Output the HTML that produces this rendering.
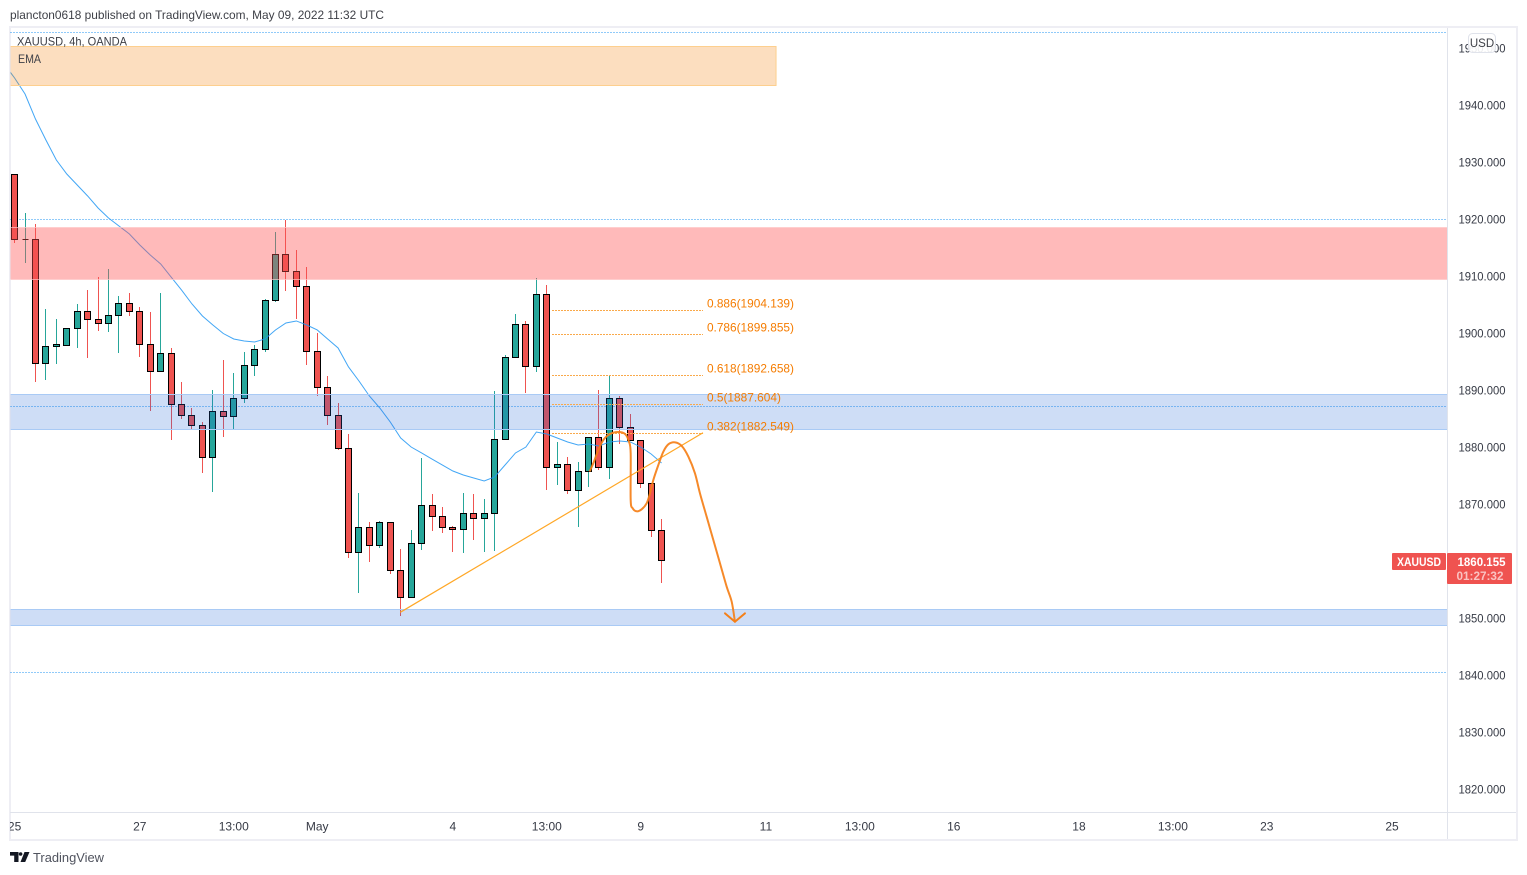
<!DOCTYPE html>
<html lang="en">
<head>
<meta charset="utf-8">
<title>XAUUSD 4h chart</title>
<style>
html,body{margin:0;padding:0;background:#fff;width:1527px;height:875px;overflow:hidden}
svg{display:block;font-family:"Liberation Sans",Arial,sans-serif}
</style>
</head>
<body>
<svg id="chart" xmlns="http://www.w3.org/2000/svg" width="1527" height="875" viewBox="0 0 1527 875">
  <defs>
    <clipPath id="pane-clip"><rect x="10.5" y="28" width="1436.5" height="784"/></clipPath>
    <clipPath id="time-clip"><rect x="10" y="813" width="1437" height="26"/></clipPath>
  </defs>
  <rect x="0" y="0" width="1527" height="875" fill="#ffffff"/>
  <text x="10" y="19" font-size="12" fill="#3d3f46" textLength="374" lengthAdjust="spacingAndGlyphs">plancton0618 published on TradingView.com, May 09, 2022 11:32 UTC</text>
  <rect x="10" y="27" width="1507" height="813" fill="none" stroke="#eeeef4" stroke-width="2"/>
  <g id="pane" clip-path="url(#pane-clip)"></g>
  <line x1="1447.5" y1="28" x2="1447.5" y2="839" stroke="#e0e3eb"/>
  <line x1="10" y1="812.5" x2="1516" y2="812.5" stroke="#e0e3eb"/>
  <g id="price-axis"></g>
  <g id="time-axis" clip-path="url(#time-clip)"></g>
  <text x="17" y="45.5" font-size="12" fill="#3d3f46" textLength="110" lengthAdjust="spacingAndGlyphs">XAUUSD, 4h, OANDA</text>
  <text x="18" y="63" font-size="12" fill="#3d3f46" textLength="23" lengthAdjust="spacingAndGlyphs">EMA</text>
  <g>
    <rect x="1468.5" y="33.5" width="27" height="19" rx="4" fill="#ffffff" fill-opacity="0.9" stroke="#e0e3eb"/>
    <text x="1482" y="47" font-size="11.5" fill="#3d3f46" text-anchor="middle">USD</text>
  </g>
  <g>
    <rect x="1392" y="553" width="54" height="17" rx="1" fill="#ef5350"/>
    <text x="1419" y="566" font-size="12" font-weight="bold" fill="#ffffff" text-anchor="middle" textLength="44" lengthAdjust="spacingAndGlyphs">XAUUSD</text>
    <rect x="1447" y="553" width="65" height="31" rx="1" fill="#ef5350"/>
    <text x="1505.5" y="566" font-size="12" font-weight="bold" fill="#ffffff" text-anchor="end" textLength="48" lengthAdjust="spacingAndGlyphs">1860.155</text>
    <text x="1503.5" y="580" font-size="12" font-weight="bold" fill="#ffffff" fill-opacity="0.65" text-anchor="end" textLength="47" lengthAdjust="spacingAndGlyphs">01:27:32</text>
  </g>
  <g>
    <path d="M10 852h8.5v10h-4.3v-6.4H10z" fill="#131722"/>
    <circle cx="20.6" cy="854" r="1.8" fill="#131722"/>
    <path d="M24.5 852H29.5L25.2 862H20.5z" fill="#131722"/>
    <text x="33" y="862" font-size="13" fill="#50535e" textLength="71" lengthAdjust="spacingAndGlyphs">TradingView</text>
  </g>
</svg>
<script>
const opens = [1927.84,1916.43,1916.43,1894.68,1897.66,1897.84,1900.82,1903.80,1902.40,1901.70,1903.10,1905.20,1903.80,1898.01,1893.27,1896.43,1887.48,1885.55,1883.80,1878.19,1886.26,1885.38,1888.54,1894.33,1897.13,1905.73,1913.80,1910.82,1908.19,1896.78,1890.47,1885.55,1879.76,1861.52,1865.90,1862.75,1866.78,1858.36,1853.62,1863.10,1869.76,1867.83,1865.90,1865.55,1868.36,1867.48,1868.36,1881.34,1895.73,1901.52,1894.15,1906.78,1876.43,1876.96,1872.40,1875.73,1881.69,1876.43,1888.54,1883.45,1881.17,1873.62,1865.38];
const highs = [1927.84,1920.99,1919.06,1904.15,1902.40,1900.82,1905.03,1907.37,1909.65,1911.17,1906.49,1906.96,1904.56,1903.51,1906.96,1897.31,1891.34,1886.78,1884.33,1890.00,1895.26,1892.92,1896.61,1897.84,1905.91,1917.66,1919.77,1914.50,1911.52,1899.94,1892.40,1887.66,1882.28,1871.87,1866.78,1866.96,1866.78,1862.04,1865.38,1878.01,1871.69,1869.41,1866.08,1871.87,1871.69,1870.82,1889.76,1896.08,1903.27,1902.04,1909.59,1908.36,1880.82,1878.18,1877.31,1881.69,1889.94,1892.40,1888.89,1885.73,1881.17,1873.62,1867.31];
const lows = [1915.85,1912.34,1891.46,1891.81,1894.62,1897.84,1897.43,1895.67,1900.41,1900.23,1896.55,1903.04,1895.85,1886.37,1893.27,1881.34,1884.97,1883.22,1875.50,1872.16,1881.81,1883.22,1887.84,1892.51,1896.72,1905.50,1907.43,1902.51,1894.44,1889.00,1883.92,1879.53,1860.58,1854.44,1859.88,1862.34,1857.78,1850.41,1853.62,1862.04,1865.32,1864.97,1861.63,1861.46,1863.74,1861.63,1861.81,1881.34,1895.73,1889.53,1893.21,1872.51,1873.39,1871.81,1866.02,1873.04,1876.02,1874.44,1880.58,1881.17,1872.86,1864.27,1856.20];
const closes = [1916.43,1916.43,1894.68,1897.66,1897.90,1900.82,1903.80,1902.40,1901.70,1903.10,1905.20,1903.80,1898.01,1893.27,1896.43,1887.48,1885.55,1883.80,1878.19,1886.26,1885.38,1888.54,1894.33,1897.13,1905.73,1913.80,1910.82,1908.19,1896.78,1890.47,1885.55,1879.77,1861.52,1865.90,1862.75,1866.78,1858.36,1853.62,1863.10,1869.76,1867.83,1865.90,1865.55,1868.36,1867.48,1868.36,1881.34,1895.73,1901.52,1894.15,1906.78,1876.43,1876.96,1872.40,1875.73,1881.69,1876.43,1888.54,1883.45,1881.17,1873.62,1865.38,1860.155];
const emaFirstBar = -1;
const emaValues = [1947.19,1944.74,1941.93,1937.54,1933.86,1930.35,1927.89,1925.96,1924.04,1921.93,1920.18,1918.77,1917.37,1915.44,1913.68,1912.11,1909.82,1907.54,1905.09,1902.98,1901.40,1899.91,1898.95,1898.60,1898.42,1898.95,1900.53,1901.75,1902.11,1901.40,1900.53,1898.95,1897.37,1894.04,1891.58,1888.95,1886.84,1884.39,1881.58,1880.00,1878.95,1877.89,1876.84,1875.79,1875.09,1874.56,1874.04,1874.74,1876.84,1878.95,1880.00,1882.63,1882.28,1881.58,1880.88,1880.35,1880.53,1880.18,1880.88,1881.05,1880.88,1880.00,1878.77,1877.19];
const priceTicks = [1950,1940,1930,1920,1910,1900,1890,1880,1870,1850,1840,1830,1820];
const timeLabels = ['25','27','13:00','May','4','13:00','9','11','13:00','16','18','13:00','23','25'];
const timeTickBars = [0,12,21,29,42,51,60,72,81,90,102,111,120,132];
const dottedLevels = [1952.7,1919.91,1887.14,1840.44];
const fibRatios = ['0.886','0.786','0.618','0.5','0.382'];
const fibPrices = [1904.139,1899.855,1892.658,1887.604,1882.549];
const fibStartBar = 51.5;
const fibEndBar = 65.97;
const fibLabelBar = 66.35;
const trendBars = [36.96,65.97];
const trendPrices = [1851.0,1882.5];
const sketchBars = [55.14,55.46,55.94,56.42,57.06,57.85,58.50,58.88,59.04,59.04,59.23,59.62,60.09,60.57,60.89,61.21,61.69,62.17,62.65,63.29,63.93,64.57,65.20,65.68,66.32,66.96,67.60,68.24,68.72,69.03];
const sketchPrices = [1875.85,1877.14,1879.47,1881.23,1882.28,1882.63,1882.28,1880.93,1878.89,1870.70,1869.25,1868.72,1869.07,1870.12,1871.87,1874.21,1876.84,1879.18,1880.47,1880.82,1880.18,1878.30,1875.38,1871.87,1867.77,1863.68,1859.59,1855.49,1852.86,1849.35];
const arrowBars = [68.08,69.03,69.99];
const arrowPrices = [1850.82,1849.35,1850.82];
const redZone = [1918.54,1909.42];
const blueZoneUpper = [1889.2,1883.1];
const blueZoneLower = [1851.5,1848.7];
const supplyBox = [1950.35,1943.5];
const supplyBoxEndBar = 72.97;

const NS = 'http://www.w3.org/2000/svg';
const PANE_LEFT = 10.5;
const PANE_RIGHT = 1447;
const PRICE_AT_ANCHOR = 1940;
const Y_AT_ANCHOR = 105;
const PX_PER_PRICE = 5.7;
const BAR_ORIGIN = 14.6;
const BAR_STEP = 10.435;
function xScale(bar) { return BAR_ORIGIN + BAR_STEP * bar; }
function yScale(price) { return Y_AT_ANCHOR + (PRICE_AT_ANCHOR - price) * PX_PER_PRICE; }
function snap(v) { return Math.floor(v) + 0.5; }
function make(tag, parent, props) {
  const node = document.createElementNS(NS, tag);
  Object.keys(props).forEach(function (k) { node.setAttribute(k, props[k]); });
  parent.appendChild(node);
  return node;
}
const pane = document.getElementById('pane');
const priceAxis = document.getElementById('price-axis');
const timeAxis = document.getElementById('time-axis');

dottedLevels.forEach(function (level) {
  const y = snap(yScale(level));
  const line = make('line', pane, { x1: PANE_LEFT, x2: PANE_RIGHT - 1, y1: y, y2: y, stroke: '#2196f3', 'stroke-width': 1, 'stroke-dasharray': '1 2' });
  
  
});

opens.forEach(function (open, i) {
  const close = closes[i];
  const up = close >= open;
  const color = up ? '#26a69a' : '#ef5350';
  const cx = snap(xScale(i));
  const wick = make('line', pane, { x1: cx, x2: cx, y1: Math.floor(yScale(highs[i])), y2: Math.floor(yScale(lows[i])) + 1, stroke: color, 'stroke-width': 1 });
  
  
  const top = snap(yScale(Math.max(open, close)));
  const bottom = snap(yScale(Math.min(open, close)));
  const d = 'M' + (cx - 3) + ' ' + top + 'H' + (cx + 3) + 'V' + bottom + 'H' + (cx - 3) + 'Z';
  const body = make('path', pane, { d: d, fill: color, stroke: '#000000', 'stroke-width': 1 });
  
  
});

const emaPath = emaValues.map(function (v, i) {
  return (i ? 'L' : 'M') + xScale(emaFirstBar + i).toFixed(2) + ' ' + yScale(v).toFixed(2);
}).join('');
const emaLine = make('path', pane, { d: emaPath, fill: 'none', stroke: '#2196f3', 'stroke-width': 1, 'stroke-opacity': 0.85 });



function zone(prices, endX, fill, border) {
  const y0 = yScale(prices[0]);
  const y1 = yScale(prices[1]);
  const r = make('rect', pane, { x: PANE_LEFT - 2, y: snap(y0), width: endX - PANE_LEFT + 2, height: Math.round(y1 - y0), fill: fill, stroke: border, 'stroke-width': 1 });
  return r;
}
const orangeZone = zone(supplyBox, xScale(supplyBoxEndBar), 'rgba(245,124,0,0.25)', '#fdcf8e');


const redRect = zone(redZone, PANE_RIGHT + 5, 'rgba(255,82,82,0.4)', 'rgba(255,200,200,0.7)');


const blueUpperRect = zone(blueZoneUpper, PANE_RIGHT + 5, 'rgba(31,100,215,0.22)', '#a9caf5');


const blueLowerRect = zone(blueZoneLower, PANE_RIGHT + 5, 'rgba(31,100,215,0.22)', '#a9caf5');



fibPrices.forEach(function (price, i) {
  const y = snap(yScale(price) + 1);
  const line = make('line', pane, { x1: xScale(fibStartBar), x2: xScale(fibEndBar), y1: y, y2: y, stroke: '#f9a94b', 'stroke-width': 1, 'stroke-dasharray': '2 1' });
  
  
  const label = make('text', pane, { x: xScale(fibLabelBar), y: y - 3, 'font-size': 12, fill: '#f57c00', textLength: 87, lengthAdjust: 'spacingAndGlyphs' });
  label.textContent = fibRatios[i] + '(' + price.toFixed(3) + ')';
  if (fibRatios[i] === '0.5') { label.setAttribute('textLength', 74); }
  
  
});

const trend = make('line', pane, { x1: xScale(trendBars[0]), y1: yScale(trendPrices[0]), x2: xScale(trendBars[1]), y2: yScale(trendPrices[1]), stroke: '#ffa726', 'stroke-width': 1.2 });



function smoothPath(xs, ys) {
  let d = 'M' + xs[0].toFixed(2) + ' ' + ys[0].toFixed(2);
  for (let i = 0; i < xs.length - 1; i++) {
    const p0 = i > 0 ? i - 1 : i;
    const p3 = i + 2 < xs.length ? i + 2 : i + 1;
    const c1x = xs[i] + (xs[i + 1] - xs[p0]) / 6;
    const c1y = ys[i] + (ys[i + 1] - ys[p0]) / 6;
    const c2x = xs[i + 1] - (xs[p3] - xs[i]) / 6;
    const c2y = ys[i + 1] - (ys[p3] - ys[i]) / 6;
    d += 'C' + c1x.toFixed(2) + ' ' + c1y.toFixed(2) + ' ' + c2x.toFixed(2) + ' ' + c2y.toFixed(2) + ' ' + xs[i + 1].toFixed(2) + ' ' + ys[i + 1].toFixed(2);
  }
  return d;
}
const sketch = make('path', pane, { d: smoothPath(sketchBars.map(xScale), sketchPrices.map(yScale)), fill: 'none', stroke: '#f57f17', 'stroke-width': 2, 'stroke-linecap': 'round', 'stroke-linejoin': 'round', 'stroke-opacity': 0.92 });


const arrowD = arrowBars.map(function (b, i) {
  return (i ? 'L' : 'M') + xScale(b).toFixed(2) + ' ' + yScale(arrowPrices[i]).toFixed(2);
}).join('');
const arrow = make('path', pane, { d: arrowD, fill: 'none', stroke: '#f57f17', 'stroke-width': 2, 'stroke-linecap': 'round', 'stroke-linejoin': 'round' });



priceTicks.forEach(function (tick) {
  const t = make('text', priceAxis, { x: 1505.5, y: yScale(tick) + 4.5, 'font-size': 12, fill: '#363a45', 'text-anchor': 'end', textLength: 47, lengthAdjust: 'spacingAndGlyphs' });
  t.textContent = tick.toFixed(3);
  
  
});

timeLabels.forEach(function (label, i) {
  const t = make('text', timeAxis, { x: xScale(timeTickBars[i]), y: 830.5, 'font-size': 12, fill: '#363a45', 'text-anchor': 'middle' });
  t.textContent = label;
  
  
});
</script>
</body>
</html>
